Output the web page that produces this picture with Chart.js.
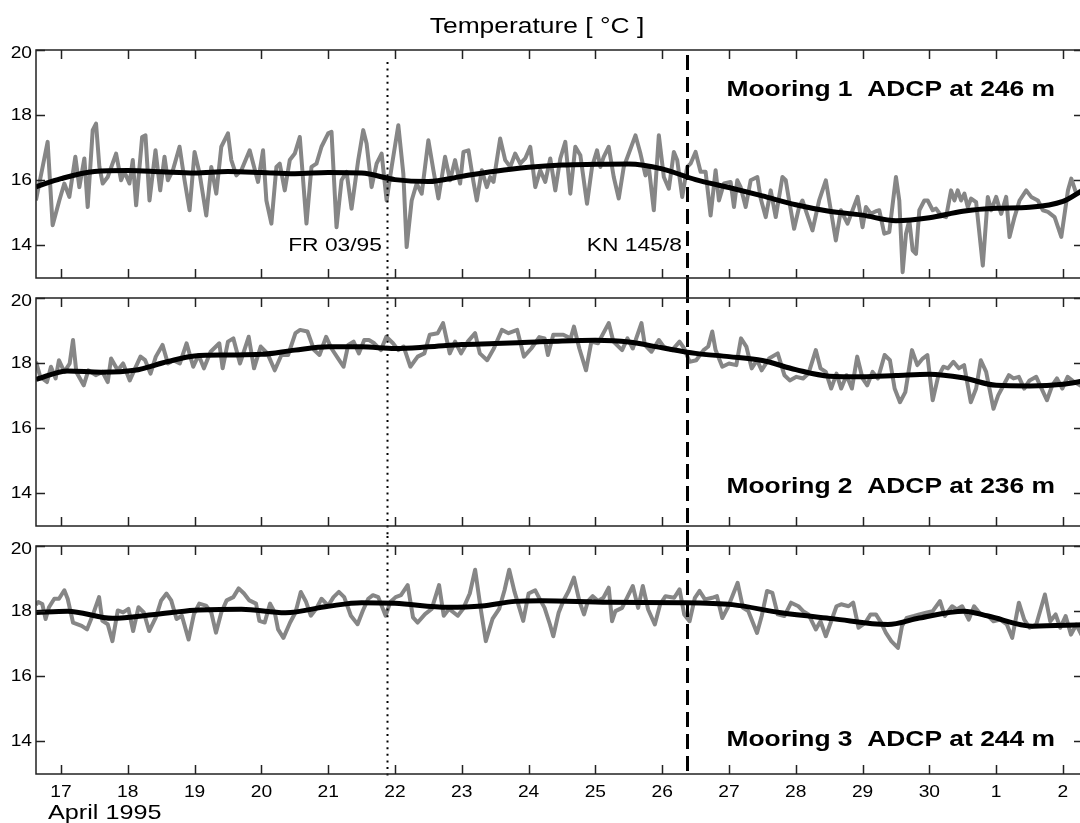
<!DOCTYPE html>
<html>
<head>
<meta charset="utf-8">
<title>Temperature</title>
<script src="https://cdn.jsdelivr.net/npm/chart.js@4.4.1/dist/chart.umd.min.js"></script>
<style>
html, body { margin: 0; padding: 0; background: #fff; overflow: hidden; }
#wrap { position: relative; width: 1080px; height: 823px; overflow: hidden; }
#wrap canvas { position: absolute; left: 0; }
</style>
</head>
<body>
<div id="wrap">
  <canvas id="p1" width="1084" height="288" style="top:0px"></canvas>
  <canvas id="p2" width="1084" height="248" style="top:288px"></canvas>
  <canvas id="p3" width="1084" height="287" style="top:536px"></canvas>
</div>
<script>
// time axis in days of April 1995 (31 = 1 May, 32 = 2 May)
const dayTicks = [17, 18, 19, 20, 21, 22, 23, 24, 25, 26, 27, 28, 29, 30, 31, 32];
const tempTicks = [14, 16, 18, 20];
const dayMin = 16.626, dayMax = 32.30;

// ship cruises
const cruiseDays = [21.88, 26.37];
const cruiseNames = ['FR 03/95', 'KN 145/8'];

const mooringNames = ['Mooring 1  ADCP at 246 m', 'Mooring 2  ADCP at 236 m', 'Mooring 3  ADCP at 244 m'];

// [day, °C] — measured temperature
const m1Temp = [
  [16.625,15.38],[16.80,17.18],[16.875,14.62],[16.975,15.38],[17.05,15.90],[17.125,15.49],[17.215,16.72],[17.275,15.79],
  [17.35,16.67],[17.40,15.18],[17.475,17.54],[17.525,17.74],[17.575,16.41],[17.625,15.90],[17.70,16.10],[17.825,16.82],
  [17.90,16.00],[17.95,16.26],[18.025,15.90],[18.075,16.62],[18.125,15.23],[18.215,17.33],[18.265,17.38],[18.325,15.38],
  [18.415,16.92],[18.485,15.69],[18.55,16.72],[18.60,16.00],[18.675,16.31],[18.775,17.03],[18.85,16.00],[18.925,15.08],
  [19.00,16.87],[19.075,16.21],[19.175,14.92],[19.25,16.41],[19.325,15.59],[19.40,17.03],[19.50,17.44],[19.55,16.62],
  [19.625,16.15],[19.70,16.31],[19.825,16.92],[19.95,15.95],[20.025,16.92],[20.075,15.38],[20.15,14.67],[20.225,16.41],
  [20.275,16.51],[20.35,15.69],[20.425,16.62],[20.50,16.82],[20.575,17.33],[20.675,14.67],[20.75,16.41],[20.825,16.51],
  [20.90,17.03],[21.00,17.44],[21.05,17.49],[21.125,14.56],[21.20,16.00],[21.275,16.26],[21.35,15.13],[21.45,16.62],
  [21.525,17.54],[21.575,17.13],[21.65,15.79],[21.725,16.51],[21.80,16.82],[21.875,15.38],[21.95,16.41],[22.05,17.69],
  [22.125,16.21],[22.175,13.95],[22.25,15.38],[22.325,15.90],[22.40,15.59],[22.50,17.23],[22.575,16.31],[22.65,15.44],
  [22.75,16.72],[22.825,16.00],[22.90,16.62],[22.975,15.90],[23.025,16.87],[23.10,16.92],[23.175,15.95],[23.225,15.38],
  [23.30,16.31],[23.375,15.79],[23.425,16.10],[23.475,15.95],[23.525,16.62],[23.575,17.28],[23.65,16.62],[23.725,16.41],
  [23.80,16.82],[23.875,16.51],[23.95,16.67],[24.025,17.03],[24.10,15.79],[24.175,16.31],[24.25,15.95],[24.325,16.67],
  [24.40,15.69],[24.475,16.67],[24.55,17.18],[24.625,15.59],[24.70,17.03],[24.775,16.77],[24.875,15.28],[24.95,16.41],
  [25.025,16.92],[25.075,16.41],[25.125,16.72],[25.20,17.03],[25.275,16.10],[25.35,15.44],[25.425,16.41],[25.50,16.82],
  [25.60,17.38],[25.675,16.82],[25.75,16.15],[25.80,16.41],[25.875,15.08],[25.95,17.38],[26.025,16.10],[26.10,15.74],
  [26.175,16.87],[26.225,16.62],[26.30,15.49],[26.375,16.41],[26.425,16.51],[26.50,16.87],[26.575,16.26],[26.65,16.26],
  [26.725,14.92],[26.80,16.31],[26.85,15.38],[26.925,15.90],[27.025,15.95],[27.075,15.18],[27.125,16.00],[27.175,15.79],
  [27.25,15.18],[27.325,16.00],[27.425,16.10],[27.475,15.44],[27.55,14.87],[27.625,15.69],[27.70,14.87],[27.80,16.10],
  [27.85,16.00],[27.90,15.38],[27.975,14.51],[28.05,15.18],[28.10,15.38],[28.175,14.92],[28.25,14.46],[28.35,15.38],
  [28.45,16.00],[28.525,15.08],[28.60,14.15],[28.675,15.08],[28.775,14.67],[28.85,15.08],[28.925,15.49],[29.00,14.56],
  [29.05,15.18],[29.125,14.97],[29.20,15.05],[29.25,15.08],[29.325,14.36],[29.40,14.41],[29.50,16.10],[29.55,15.38],
  [29.60,13.18],[29.65,14.36],[29.70,14.77],[29.75,13.85],[29.80,13.74],[29.85,15.08],[29.925,15.38],[29.975,15.38],
  [30.05,15.08],[30.10,15.13],[30.175,14.92],[30.25,14.87],[30.325,15.69],[30.375,15.38],[30.425,15.69],[30.475,15.38],
  [30.525,15.59],[30.575,15.18],[30.625,15.44],[30.70,15.33],[30.80,13.38],[30.875,15.49],[30.925,15.08],[31.00,15.49],
  [31.075,14.97],[31.15,15.49],[31.20,14.26],[31.275,14.87],[31.35,15.38],[31.45,15.69],[31.525,15.49],[31.625,15.38],
  [31.70,15.08],[31.775,15.03],[31.875,14.87],[31.975,14.26],[32.075,15.69],[32.125,16.05],[32.20,15.59],[32.30,15.74]
];
// [day, °C] — low-passed
const m1Mean = [
  [16.626,15.80],[17.0,16.05],[17.5,16.27],[18.0,16.30],[18.5,16.26],[19.0,16.22],[19.5,16.27],[20.0,16.24],
  [20.5,16.20],[21.0,16.24],[21.5,16.22],[22.0,16.02],[22.5,15.96],[23.0,16.12],[23.5,16.28],[24.0,16.40],
  [24.5,16.47],[25.0,16.49],[25.5,16.50],[26.0,16.35],[26.5,16.02],[27.0,15.78],[27.5,15.52],[28.0,15.25],
  [28.5,15.05],[29.0,14.93],[29.5,14.76],[30.0,14.85],[30.5,15.05],[31.0,15.14],[31.5,15.17],[32.0,15.35],[32.30,15.70]
];

const m2Temp = [
  [16.626,18.04],[16.69,17.58],[16.79,17.42],[16.85,17.89],[16.92,17.53],[16.97,18.09],[17.05,17.73],[17.13,17.99],
  [17.18,18.71],[17.23,17.73],[17.34,17.32],[17.41,17.78],[17.52,17.63],[17.62,17.73],[17.70,17.42],[17.75,18.14],
  [17.85,17.78],[17.93,17.99],[18.03,17.47],[18.11,17.84],[18.19,18.20],[18.26,18.09],[18.34,17.68],[18.42,18.20],
  [18.52,18.56],[18.60,17.99],[18.68,18.09],[18.78,17.99],[18.88,18.61],[18.98,17.89],[19.06,18.25],[19.14,17.84],
  [19.24,18.35],[19.37,18.61],[19.42,17.84],[19.50,18.66],[19.58,18.76],[19.68,17.99],[19.81,18.81],[19.89,17.84],
  [19.99,18.51],[20.09,18.30],[20.20,17.78],[20.30,18.25],[20.40,18.25],[20.51,18.92],[20.58,19.02],[20.69,18.97],
  [20.79,18.40],[20.87,18.25],[20.97,18.81],[21.05,18.45],[21.15,18.14],[21.23,17.89],[21.30,18.56],[21.38,18.66],
  [21.46,18.30],[21.54,18.71],[21.61,18.71],[21.69,18.61],[21.79,18.40],[21.87,18.81],[21.97,18.61],[22.05,18.40],
  [22.13,18.51],[22.23,17.89],[22.34,18.20],[22.44,18.30],[22.52,18.87],[22.64,18.92],[22.72,19.23],[22.82,18.30],
  [22.90,18.66],[22.99,18.30],[23.09,18.66],[23.20,18.92],[23.27,18.30],[23.38,18.09],[23.48,18.45],[23.60,19.02],
  [23.70,18.92],[23.83,19.02],[23.93,18.20],[24.04,18.45],[24.16,18.80],[24.24,18.76],[24.29,18.25],[24.37,18.87],
  [24.45,18.87],[24.52,18.87],[24.63,18.76],[24.68,19.12],[24.76,18.45],[24.86,17.78],[24.94,18.66],[25.04,18.61],
  [25.12,18.92],[25.20,19.23],[25.27,18.66],[25.40,18.40],[25.48,18.76],[25.56,18.45],[25.69,19.23],[25.74,18.56],
  [25.84,18.35],[25.95,18.71],[26.02,18.51],[26.15,18.40],[26.26,18.66],[26.33,18.45],[26.41,18.04],[26.51,18.09],
  [26.62,18.40],[26.69,18.51],[26.75,18.97],[26.80,18.40],[26.90,17.89],[27.00,17.99],[27.11,17.94],[27.18,18.76],
  [27.26,18.51],[27.34,17.84],[27.42,18.09],[27.49,17.78],[27.60,18.14],[27.73,18.30],[27.83,17.63],[27.91,17.47],
  [28.01,17.58],[28.11,17.53],[28.19,17.68],[28.30,18.40],[28.37,17.84],[28.45,17.73],[28.53,17.22],[28.61,17.68],
  [28.68,17.22],[28.76,17.63],[28.84,17.22],[28.92,18.20],[29.00,17.53],[29.07,17.32],[29.15,17.73],[29.23,17.53],
  [29.33,18.25],[29.41,18.09],[29.48,17.22],[29.56,16.80],[29.64,17.11],[29.74,18.40],[29.82,17.94],[29.90,18.14],
  [29.97,18.25],[30.05,16.86],[30.13,17.58],[30.21,17.89],[30.28,17.84],[30.36,18.04],[30.44,17.84],[30.52,17.94],
  [30.62,16.80],[30.70,17.22],[30.77,18.09],[30.85,17.73],[30.96,16.60],[31.03,17.01],[31.11,17.32],[31.19,17.63],
  [31.26,17.53],[31.34,17.58],[31.42,17.22],[31.50,17.47],[31.60,17.58],[31.68,17.22],[31.76,16.86],[31.84,17.32],
  [31.91,17.53],[31.99,17.22],[32.07,17.58],[32.17,17.42],[32.30,17.27]
];
const m2Mean = [
  [16.626,17.50],[17.1,17.76],[17.6,17.72],[18.1,17.78],[18.6,18.05],[19.0,18.22],[19.5,18.25],[20.0,18.27],
  [20.5,18.40],[21.0,18.50],[21.5,18.50],[22.0,18.45],[22.5,18.50],[23.0,18.57],[23.5,18.60],[24.0,18.64],
  [24.5,18.68],[25.0,18.70],[25.5,18.65],[26.0,18.47],[26.5,18.30],[27.0,18.20],[27.5,18.08],[28.0,17.80],
  [28.5,17.60],[29.0,17.58],[29.5,17.62],[30.0,17.66],[30.5,17.55],[31.0,17.32],[31.5,17.30],[32.0,17.35],[32.30,17.45]
];

const m3Temp = [
  [16.626,18.20],[16.66,18.28],[16.72,18.22],[16.77,17.76],[16.82,18.12],[16.90,18.38],[16.97,18.38],[17.05,18.64],
  [17.10,18.38],[17.18,17.65],[17.31,17.55],[17.39,17.44],[17.49,17.96],[17.57,18.43],[17.62,17.70],[17.70,17.60],
  [17.77,17.08],[17.85,18.02],[17.93,17.96],[18.01,18.07],[18.08,17.39],[18.16,18.12],[18.24,17.96],[18.32,17.39],
  [18.42,17.81],[18.50,18.33],[18.58,18.54],[18.65,18.33],[18.73,17.76],[18.81,17.86],[18.91,17.13],[18.99,17.91],
  [19.07,18.23],[19.17,18.17],[19.25,17.96],[19.32,17.34],[19.40,17.96],[19.48,18.33],[19.58,18.43],[19.66,18.70],
  [19.74,18.54],[19.82,18.33],[19.92,18.23],[19.97,17.70],[20.05,17.65],[20.13,18.23],[20.20,17.96],[20.25,17.44],
  [20.33,17.18],[20.43,17.65],[20.51,17.96],[20.59,18.59],[20.67,18.28],[20.74,17.86],[20.82,18.07],[20.90,18.38],
  [21.00,18.17],[21.08,18.43],[21.16,18.59],[21.24,18.43],[21.34,17.86],[21.44,17.60],[21.52,18.02],[21.60,18.38],
  [21.67,18.49],[21.75,18.43],[21.86,17.86],[21.93,18.28],[22.01,18.43],[22.09,18.49],[22.19,18.80],[22.27,17.81],
  [22.34,17.65],[22.45,17.91],[22.55,18.07],[22.66,18.80],[22.73,17.86],[22.81,18.07],[22.94,17.86],[23.02,18.07],
  [23.12,18.54],[23.20,19.27],[23.28,18.12],[23.36,17.08],[23.46,17.76],[23.56,18.07],[23.64,18.64],[23.71,19.27],
  [23.79,18.59],[23.92,17.70],[24.00,18.54],[24.10,18.64],[24.16,18.40],[24.24,18.10],[24.32,17.59],[24.37,17.23],
  [24.45,17.95],[24.52,18.31],[24.60,18.62],[24.68,19.03],[24.76,18.31],[24.83,17.90],[24.89,18.31],[24.96,18.46],
  [25.04,18.31],[25.12,18.41],[25.20,18.72],[25.25,17.69],[25.30,18.00],[25.40,18.10],[25.51,18.56],[25.56,18.77],
  [25.64,18.10],[25.71,18.77],[25.79,18.05],[25.89,17.59],[25.97,18.21],[26.05,18.46],[26.18,18.41],[26.26,18.67],
  [26.33,17.90],[26.41,17.69],[26.49,18.41],[26.56,18.62],[26.64,18.36],[26.75,18.41],[26.82,18.46],[26.90,17.79],
  [26.98,18.10],[27.05,18.46],[27.13,18.87],[27.21,18.10],[27.29,18.00],[27.42,17.33],[27.49,17.85],[27.57,18.62],
  [27.65,18.56],[27.73,17.90],[27.83,17.85],[27.93,18.26],[28.04,18.15],[28.11,18.00],[28.19,17.90],[28.30,17.44],
  [28.37,17.69],[28.45,17.23],[28.53,17.69],[28.61,18.15],[28.68,18.21],[28.79,18.15],[28.86,18.26],[28.94,17.49],
  [29.04,17.64],[29.12,17.90],[29.20,17.90],[29.28,17.64],[29.35,17.33],[29.43,17.08],[29.53,16.87],[29.59,17.54],
  [29.66,17.79],[29.77,17.85],[29.85,17.90],[29.95,17.95],[30.05,18.00],[30.16,18.31],[30.23,17.85],[30.34,18.15],
  [30.41,18.05],[30.49,18.15],[30.59,17.74],[30.67,18.15],[30.77,17.90],[30.88,17.85],[30.96,17.69],[31.06,17.74],
  [31.16,17.59],[31.24,17.18],[31.34,18.26],[31.42,17.74],[31.50,17.49],[31.60,17.59],[31.73,18.51],[31.81,17.69],
  [31.89,17.90],[31.96,17.49],[32.04,17.85],[32.12,17.28],[32.20,17.59],[32.30,17.18]
];
const m3Mean = [
  [16.626,17.96],[17.1,18.00],[17.77,17.78],[18.4,17.90],[19.0,18.03],[19.7,18.06],[20.36,17.95],[21.0,18.15],
  [21.5,18.26],[22.0,18.24],[22.8,18.12],[23.3,18.16],[23.8,18.30],[24.2,18.32],[25.2,18.27],[26.33,18.26],
  [27.05,18.20],[27.78,17.95],[28.55,17.77],[29.38,17.59],[29.85,17.79],[30.52,18.00],[30.88,17.85],[31.55,17.54],[32.30,17.58]
];

const FONT = '"Liberation Sans", Arial, Helvetica, sans-serif';
const SX = 1.2; // lettering is a little wider than plain Helvetica

function wideText(ctx, str, x, y, align, font) {
  ctx.save();
  ctx.font = font;
  ctx.textBaseline = 'middle';
  ctx.textAlign = 'left';
  const w = ctx.measureText(str).width * SX;
  const left = align === 'right' ? x - w : align === 'center' ? x - w / 2 : x;
  ctx.translate(left, y);
  ctx.scale(SX, 1);
  ctx.fillStyle = '#000';
  ctx.fillText(str, 0, 0);
  ctx.restore();
}

// box, inward ticks, cruise markers and the lettering of each panel
const panelMarks = {
  id: 'panelMarks',
  afterDatasetsDraw(chart, args, o) {
    const { ctx, chartArea: a, scales: { x, y } } = chart;
    ctx.save();

    // cruise markers run through all three panels
    ctx.strokeStyle = '#000';
    cruiseDays.forEach((d, i) => {
      const px = Math.round(x.getPixelForValue(d)) + 0.5;
      ctx.beginPath();
      if (i === 0) { ctx.lineWidth = 2; ctx.setLineDash([2, 4.6]); }
      else { ctx.lineWidth = 3; ctx.setLineDash([15, 7]); }
      ctx.moveTo(px, o.lineTop[i]);
      ctx.lineTo(px, o.lineBottom);
      ctx.stroke();
    });
    ctx.setLineDash([]);

    ctx.strokeStyle = '#222';
    ctx.lineWidth = 1.5;
    ctx.strokeRect(a.left, a.top, a.right - a.left, a.bottom - a.top);
    ctx.beginPath();
    dayTicks.forEach(d => {
      const px = Math.round(x.getPixelForValue(d)) + 0.5;
      ctx.moveTo(px, a.top); ctx.lineTo(px, a.top + 9);
      ctx.moveTo(px, a.bottom); ctx.lineTo(px, a.bottom - 9);
    });
    tempTicks.forEach(t => {
      const py = Math.round(y.getPixelForValue(t)) + 0.5;
      ctx.moveTo(a.left, py); ctx.lineTo(a.left + 9, py);
      ctx.moveTo(a.right, py); ctx.lineTo(a.right - 9, py);
    });
    ctx.stroke();

    tempTicks.forEach(t => {
      wideText(ctx, String(t), a.left - 4, y.getPixelForValue(t) + (t === 20 ? 4 : 0), 'right', '16px ' + FONT);
    });

    if (o.showDays) {
      dayTicks.forEach(d => {
        wideText(ctx, String(d > 30 ? d - 30 : d), x.getPixelForValue(d), a.bottom + 19, 'center', '16px ' + FONT);
      });
      wideText(ctx, 'April 1995', 48, a.bottom + 39, 'left', '21px ' + FONT);
    }

    if (o.title) wideText(ctx, o.title, 537, 27, 'center', '22px ' + FONT);

    if (o.cruiseAt) {
      cruiseDays.forEach((d, i) => {
        wideText(ctx, cruiseNames[i], x.getPixelForValue(d) - 5, y.getPixelForValue(o.cruiseAt), 'right', '19px ' + FONT);
      });
    }

    wideText(ctx, o.name, a.right - 28, y.getPixelForValue(o.nameAt), 'right', 'bold 22px ' + FONT);
    ctx.restore();
  }
};

function makePanel(id, temp, mean, pad, marks) {
  return new Chart(document.getElementById(id), {
    type: 'line',
    data: {
      datasets: [
        {
          data: mean.map(([d, t]) => ({ x: d, y: t })),
          borderColor: '#000',
          borderWidth: 5,
          cubicInterpolationMode: 'monotone',
          pointRadius: 0,
          order: 0
        },
        {
          data: temp.map(([d, t]) => ({ x: d, y: t })),
          borderColor: '#868686',
          borderWidth: 4,
          borderJoinStyle: 'round',
          tension: 0,
          pointRadius: 0,
          order: 1
        }
      ]
    },
    options: {
      responsive: false,
      animation: false,
      devicePixelRatio: 1,
      layout: { padding: { left: 36, right: 1, top: pad[0], bottom: pad[1] } },
      plugins: { legend: { display: false }, tooltip: { enabled: false }, panelMarks: marks },
      scales: {
        x: { type: 'linear', min: dayMin, max: dayMax, display: false },
        y: { type: 'linear', min: 13, max: 20, display: false }
      }
    },
    plugins: [panelMarks]
  });
}

makePanel('p1', m1Temp, m1Mean, [50, 10], {
  lineTop: [62, 55], lineBottom: 288,
  title: 'Temperature [ °C ]',
  cruiseAt: 13.98,
  name: mooringNames[0], nameAt: 18.77
});
makePanel('p2', m2Temp, m2Mean, [10, 10], {
  lineTop: [0, 0], lineBottom: 248,
  name: mooringNames[1], nameAt: 14.2
});
makePanel('p3', m3Temp, m3Mean, [10, 49], {
  lineTop: [0, 0], lineBottom: 241,
  showDays: true,
  name: mooringNames[2], nameAt: 14.04
});
</script>
</body>
</html>
